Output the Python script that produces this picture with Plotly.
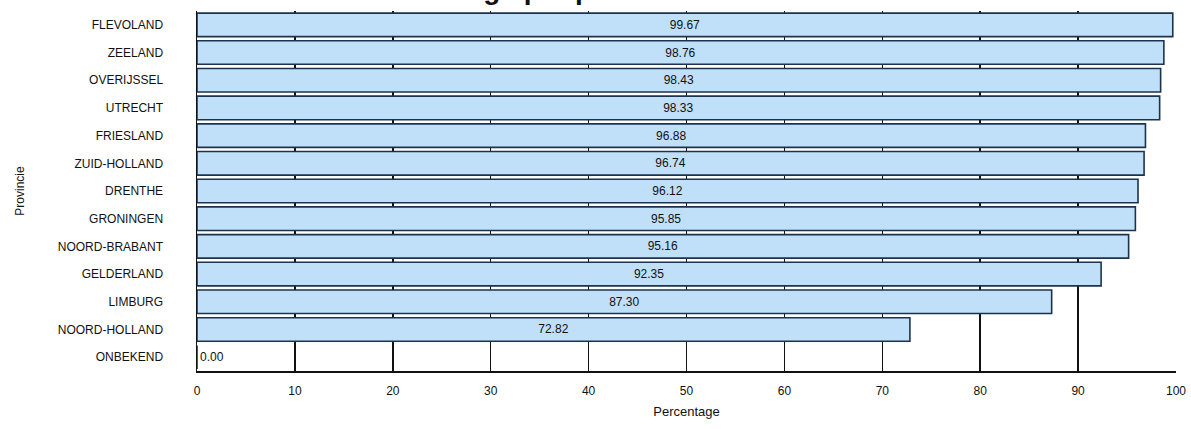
import plotly.graph_objects as go

provinces = ["FLEVOLAND", "ZEELAND", "OVERIJSSEL", "UTRECHT", "FRIESLAND",
             "ZUID-HOLLAND", "DRENTHE", "GRONINGEN", "NOORD-BRABANT",
             "GELDERLAND", "LIMBURG", "NOORD-HOLLAND", "ONBEKEND"]
percentages = [99.67, 98.76, 98.43, 98.33, 96.88, 96.74, 96.12, 95.85,
               95.16, 92.35, 87.30, 72.82, 0.00]
x_ticks = [0, 10, 20, 30, 40, 50, 60, 70, 80, 90, 100]

text_pos = ["inside" if v > 0 else "outside" for v in percentages]

fig = go.Figure(go.Bar(
    x=percentages,
    y=provinces,
    orientation="h",
    marker=dict(color="#c0e0fa", line=dict(color="#1c3350", width=1.6)),
    text=[f"{v:.2f}" for v in percentages],
    textposition=text_pos,
    insidetextanchor="middle",
    textfont=dict(family="Liberation Sans, Arial, sans-serif", size=12, color="#111111"),
    cliponaxis=False,
    constraintext="none",
))

fig.update_layout(
    width=1191, height=429,
    margin=dict(l=197, r=15, t=11, b=58),
    paper_bgcolor="white",
    plot_bgcolor="white",
    bargap=0.15,
    showlegend=False,
    font=dict(family="Liberation Sans, Arial, sans-serif", size=12, color="#111111"),
    xaxis=dict(
        range=[0, 100], tickvals=x_ticks, ticktext=[str(t) for t in x_ticks],
        showgrid=True, gridcolor="#111111", gridwidth=1.5,
        showline=True, linecolor="#111111", linewidth=1.5,
        zeroline=False, ticks="", ticklabelstandoff=8,
        tickfont=dict(size=12), automargin=False,
        title=dict(text="Percentage", font=dict(size=13), standoff=10),
        fixedrange=True,
    ),
    yaxis=dict(
        categoryorder="array", categoryarray=provinces[::-1],
        showgrid=False, showline=True, linecolor="#111111", linewidth=1.5,
        ticks="", ticklabelstandoff=30, tickfont=dict(size=12),
        automargin=False,
        title=dict(text="Provincie", font=dict(size=12), standoff=30),
        fixedrange=True,
    ),
    annotations=[dict(
        text="<b>Percentage per provincie</b>", xref="paper", yref="paper",
        x=(532 - 197) / 979, y=1 + 4 / 360,
        xanchor="center", yanchor="bottom", showarrow=False,
        font=dict(size=28, color="#111111"),
    )],
)

fig.write_html(
    "out.html",
    config={"displayModeBar": False, "staticPlot": True},
    post_script="document.body.style.margin='0';document.body.style.padding='0';",
)
